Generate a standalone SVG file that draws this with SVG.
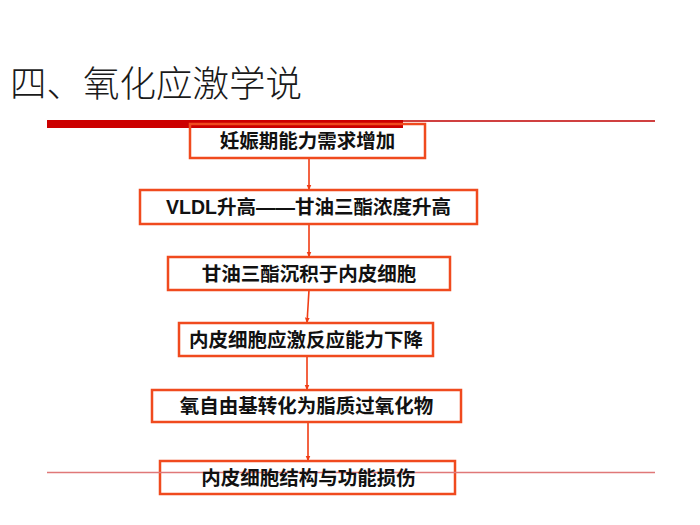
<svg xmlns="http://www.w3.org/2000/svg" width="700" height="525" viewBox="0 0 700 525">
<defs>
<marker id="ah" viewBox="0 0 10 10" refX="9" refY="5" markerWidth="6" markerHeight="6" orient="auto" markerUnits="userSpaceOnUse">
<path d="M0,1 L10,5 L0,9 z" fill="#F03C14"/>
</marker>
</defs>
<style>
.box{fill:none;stroke:#F04A1E;stroke-width:2.5}
.lbl{font-family:"Liberation Sans","Noto Sans CJK SC",sans-serif;font-size:19.5px;font-weight:bold;fill:#111;text-anchor:middle}
.con{stroke:#F03C14;stroke-width:1.6;fill:none;marker-end:url(#ah)}
</style>
<rect width="700" height="525" fill="#fff"/>
<text x="10" y="97" font-family="'Noto Sans CJK SC',sans-serif" font-size="36.5" font-weight="300" fill="#1a1a1a">四、氧化应激学说</text>
<rect x="47" y="120" width="356" height="8" fill="#CC0000"/>
<line x1="403" y1="121" x2="655" y2="121" stroke="#C00000" stroke-width="1.3"/>
<g id="connectors">
<line class="con" x1="309" y1="158" x2="309" y2="190"/>
<line class="con" x1="309" y1="224" x2="309" y2="257"/>
<line class="con" x1="309" y1="290" x2="307" y2="323"/>
<line class="con" x1="307" y1="356" x2="307" y2="390"/>
<line class="con" x1="308" y1="422" x2="308" y2="461"/>
</g>
<g id="n1"><rect class="box" x="190" y="124" width="235" height="34"/><text class="lbl" x="307.5" y="148">妊娠期能力需求增加</text></g>
<g id="n2"><rect class="box" x="140" y="190" width="337" height="34"/><text class="lbl" x="308.5" y="214">VLDL升高——甘油三酯浓度升高</text></g>
<g id="n3"><rect class="box" x="168" y="257" width="282" height="33"/><text class="lbl" x="309" y="280.5">甘油三酯沉积于内皮细胞</text></g>
<g id="n4"><rect class="box" x="179" y="323" width="254" height="33"/><text class="lbl" x="306" y="346.5">内皮细胞应激反应能力下降</text></g>
<g id="n5"><rect class="box" x="152" y="390" width="309" height="32"/><text class="lbl" x="306.5" y="413">氧自由基转化为脂质过氧化物</text></g>
<g id="n6"><rect class="box" x="160" y="461" width="295" height="33"/>
<line x1="47" y1="472.5" x2="655" y2="472.5" stroke="#E07878" stroke-width="1.5"/>
<text class="lbl" x="308.5" y="484.5">内皮细胞结构与功能损伤</text></g>
</svg>
